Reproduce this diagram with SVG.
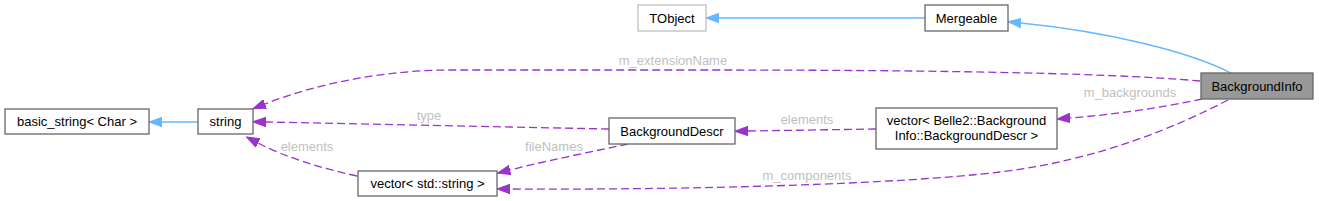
<svg xmlns="http://www.w3.org/2000/svg" width="1319" height="201" viewBox="0 0 1319 201">
<style>
.n rect{fill:#fff;stroke:#666;stroke-width:1.3}
.n text{font-family:"Liberation Sans",Arial,sans-serif;font-size:13px;fill:#000;text-anchor:middle}
.e path{fill:none;stroke-width:1.3}
.inh{stroke:#63b8ff;marker-end:url(#ab)}
.use{stroke:#9a32cd;stroke-dasharray:8,4;marker-end:url(#ap)}
.lbl{font-family:"Liberation Sans",Arial,sans-serif;font-size:13px;fill:#bfbfbf;text-anchor:middle}
</style>
<defs>
<marker id="ab" markerUnits="userSpaceOnUse" markerWidth="14" markerHeight="10" refX="0" refY="5" orient="auto" viewBox="0 0 14 10"><path d="M0,0.3L13,5L0,9.7z" fill="#63b8ff" stroke="#63b8ff"/></marker>
<marker id="ap" markerUnits="userSpaceOnUse" markerWidth="14" markerHeight="10" refX="0" refY="5" orient="auto" viewBox="0 0 14 10"><path d="M0,0.3L13,5L0,9.7z" fill="#9a32cd" stroke="#9a32cd"/></marker>
</defs>
<g id="edges" class="e">
<path class="inh" d="M925,18L719,18"/>
<path class="inh" d="M1231,73C1190,52 1110,32 1021,23"/>
<path class="inh" d="M198,122L162,122"/>
<path class="use" d="M1200,81C1100,72 900,70 700,70L450,70C390,70 320,82 265,104"/>
<path class="use" d="M609,129L266,122"/>
<path class="use" d="M357,176C320,168 285,157 258,143"/>
<path class="use" d="M628,144C590,152 550,160 510,170"/>
<path class="use" d="M876,129L748,131"/>
<path class="use" d="M1202,99C1160,108 1110,115 1070,118"/>
<path class="use" d="M1228,100C1180,125 1100,160 1000,172C900,184 700,190 510,189"/>
<text class="lbl" x="673" y="65">m_extensionName</text>
<text class="lbl" x="429" y="120">type</text>
<text class="lbl" x="307" y="151">elements</text>
<text class="lbl" x="554" y="151">fileNames</text>
<text class="lbl" x="807" y="124">elements</text>
<text class="lbl" x="1130" y="97">m_backgrounds</text>
<text class="lbl" x="807" y="180">m_components</text>
</g>
<g id="BackgroundInfo" class="n"><rect x="1201" y="73" width="112" height="26" style="fill:#999"/><text x="1257" y="90.5">BackgroundInfo</text></g>
<g id="Mergeable" class="n"><rect x="925" y="5" width="83" height="26"/><text x="966.5" y="22.5">Mergeable</text></g>
<g id="TObject" class="n"><rect x="638" y="5" width="68" height="26" style="stroke:#bfbfbf"/><text x="672" y="22.5">TObject</text></g>
<g id="string" class="n"><rect x="198" y="109" width="55" height="25"/><text x="225.5" y="126">string</text></g>
<g id="basic_string" class="n"><rect x="5" y="109" width="144" height="25"/><text x="77" y="126">basic_string&lt; Char &gt;</text></g>
<g id="BackgroundDescr" class="n"><rect x="609" y="118" width="126" height="26"/><text x="672" y="135.5">BackgroundDescr</text></g>
<g id="vector_BackgroundDescr" class="n"><rect x="876" y="108" width="181" height="41"/><text x="966.5" y="124.5">vector&lt; Belle2::Background</text><text x="966.5" y="139.5">Info::BackgroundDescr &gt;</text></g>
<g id="vector_string" class="n"><rect x="358" y="171" width="139" height="25"/><text x="427.5" y="188">vector&lt; std::string &gt;</text></g>
</svg>
